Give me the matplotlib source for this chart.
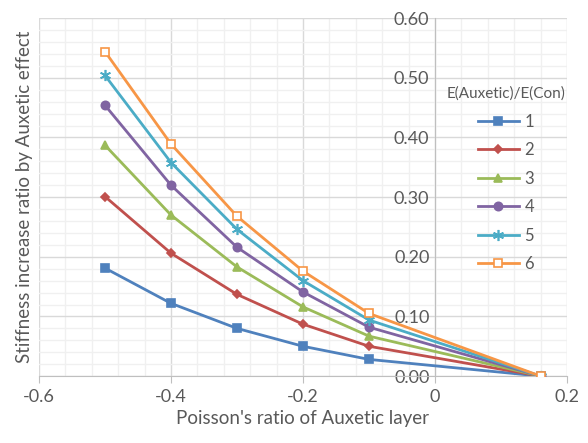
import numpy as np
import matplotlib.pyplot as plt
from matplotlib.ticker import MultipleLocator, FormatStrFormatter

plt.rcParams['font.family'] = ['Lato', 'DejaVu Sans']

poisson = [-0.5, -0.4, -0.3, -0.2, -0.1, 0.16]
ratio_names = ["1", "2", "3", "4", "5", "6"]

s1 = [0.181, 0.122, 0.080, 0.050, 0.028, 0.0]
s2 = [0.301, 0.206, 0.137, 0.087, 0.050, 0.0]
s3 = [0.387, 0.270, 0.183, 0.116, 0.067, 0.0]
s4 = [0.454, 0.320, 0.216, 0.141, 0.082, 0.0]
s5 = [0.504, 0.358, 0.246, 0.160, 0.094, 0.0]
s6 = [0.544, 0.389, 0.268, 0.176, 0.105, 0.0]

colors = ['#4F81BD', '#C0504D', '#9BBB59', '#8064A2', '#4BACC6', '#F79646']
markers = ['s', 'D', '^', 'o', (6, 2, 0), 's']
msizes = [6, 4.5, 6, 6, 8, 6]

text_col = '#595959'

fig = plt.figure(figsize=(5.88, 4.43), dpi=100)
ax = fig.add_axes([0.0663, 0.151, 0.898, 0.808])

for i, ys in enumerate([s1, s2, s3, s4, s5, s6]):
    face = 'white' if i == 5 else colors[i]
    ax.plot(poisson, ys, color=colors[i], linewidth=2, marker=markers[i],
            markersize=msizes[i], markerfacecolor=face, markeredgecolor=colors[i],
            markeredgewidth=1.2, label=ratio_names[i], zorder=3)

ax.set_xlim(-0.6, 0.2)
ax.set_ylim(0, 0.6)
ax.xaxis.set_major_locator(MultipleLocator(0.2))
ax.xaxis.set_minor_locator(MultipleLocator(0.04))
ax.yaxis.set_major_locator(MultipleLocator(0.1))
ax.yaxis.set_minor_locator(MultipleLocator(0.02))
ax.yaxis.set_major_formatter(FormatStrFormatter('%.2f'))
ax.xaxis.set_major_formatter(lambda v, p: '0' if abs(v) < 1e-9 else ('%.1f' % v))

ax.grid(which='major', color='#d9d9d9', linewidth=1, zorder=0)
ax.grid(which='minor', color='#f0f0f0', linewidth=1, zorder=0)
ax.set_axisbelow(True)

for s in ['top', 'right']:
    ax.spines[s].set_visible(False)
ax.spines['left'].set_position(('data', 0))
ax.spines['bottom'].set_position(('data', 0))
ax.spines['left'].set_color('#bfbfbf')
ax.spines['bottom'].set_color('#bfbfbf')
ax.spines['left'].set_zorder(1)
ax.spines['bottom'].set_zorder(1)

ax.tick_params(axis='x', which='major', length=5, color='#bfbfbf', labelsize=13,
               labelcolor=text_col, pad=4)
ax.tick_params(axis='y', which='major', length=0, labelsize=13,
               labelcolor=text_col, pad=4)
ax.tick_params(which='minor', length=0)

ax.set_xlabel("Poisson's ratio of Auxetic layer", fontsize=13.5, color=text_col, labelpad=4)
ax.set_ylabel("Stiffness increase ratio by Auxetic effect", fontsize=13.5, color=text_col)
ax.yaxis.set_label_coords(-0.012, 0.5)

leg = ax.legend(title="E(Auxetic)/E(Con)", loc='upper right', bbox_to_anchor=(1.025, 0.85),
                frameon=False, fontsize=12, title_fontsize=11, labelspacing=0.75,
                handlelength=2.5, handletextpad=0.3, labelcolor=text_col)
leg.get_title().set_color(text_col)
leg._legend_box.align = 'center'

fig.savefig('out.png', dpi=100)
